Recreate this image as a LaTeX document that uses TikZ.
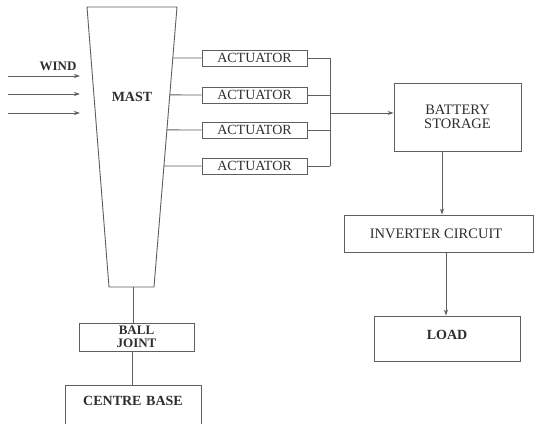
\documentclass[tikz,border=0pt]{standalone}
\usepackage{fontspec}
\setmainfont{Liberation Serif}
\usetikzlibrary{arrows.meta,calc}
\definecolor{ln}{HTML}{5E5E5E}
\definecolor{tx}{HTML}{2E2E2E}
\begin{document}
\begin{tikzpicture}[x=1pt,y=-1pt,
  every node/.style={text=tx,font=\fontsize{14.5}{14.5}\selectfont,inner sep=0pt},
  box/.style={draw=ln,line width=0.9pt,rectangle},
  actbox/.style={box,minimum width=105pt,minimum height=16pt,font=\fontsize{14}{14}\selectfont},
  conn/.style={draw=ln,line width=0.9pt},
  arr/.style={conn,-{Stealth[length=6pt,width=4pt]}},
  bld/.style={font=\fontsize{14}{14}\selectfont\bfseries}]
\clip (0,0) rectangle (535,423);
\fill[white] (0,0) rectangle (535,423);
% mast
\coordinate (mtl) at (87,7);
\coordinate (mtr) at (177,7);
\coordinate (mbr) at (154,287);
\coordinate (mbl) at (109,287);
\draw[conn] (mtl) -- (mtr) -- (mbr) -- (mbl) -- cycle;
\node[bld] (mast) at (132,97) {MAST};
\coordinate (mb) at (133,287);
% wind
\node[bld,font=\fontsize{13}{13}\selectfont\bfseries] (wind) at (58,66) {WIND};
\foreach \i/\y in {1/76,2/94,3/113}{
  \coordinate (ws\i) at (8,\y);
  \coordinate (we\i) at (80,\y);
  \draw[arr] (ws\i) -- (we\i);
}
% actuators
\foreach \i/\y/\t in {1/58/0.182,2/95/0.314,3/130/0.439,4/166/0.568}{
  \node[actbox] (a\i) at (254.5,\y) {ACTUATOR};
  \coordinate (me\i) at ($(mtr)!\t!(mbr)$);
  \draw[conn] (me\i) -- (a\i.west);
  \coordinate (b\i) at (330,\y);
  \draw[conn] (a\i.east) -- (b\i);
}
\draw[conn] (b1) -- (b4);
\coordinate (bm) at (330,113);
% battery
\node[box,minimum width=127pt,minimum height=68pt,align=center] (bat) at (457.5,117) {BATTERY\\STORAGE};
\draw[arr] (bm) -- (bat.west |- bm);
% inverter
\node[box,minimum width=189pt,minimum height=37pt] (inv) at (438.5,233.5) {};
\node (invt) at (436,233.5) {INVERTER CIRCUIT};
\draw[arr] (442,151) coordinate (bb) -- (bb |- inv.north);
% load
\node[box,minimum width=146pt,minimum height=45pt] (load) at (447,338.5) {};
\node[bld] (loadt) at (447,335) {LOAD};
\draw[arr] (446,252) coordinate (ib) -- (ib |- load.north);
% ball joint
\node[box,minimum width=115pt,minimum height=28pt] (bj) at (136.5,337) {};
\node[bld,align=center,font=\fontsize{13}{12.5}\selectfont\bfseries] (bjt) at (136.5,337) {BALL\\JOINT};
\draw[conn] (mb) -- (mb |- bj.north);
% centre base
\node[box,minimum width=136pt,minimum height=50pt] (cb) at (133,410) {};
\node[bld] (cbt) at (133,401) {CENTRE\,\,BASE};
\coordinate (bjb) at (132,351);
\draw[conn] (bjb) -- (bjb |- cb.north);
\end{tikzpicture}
\end{document}
